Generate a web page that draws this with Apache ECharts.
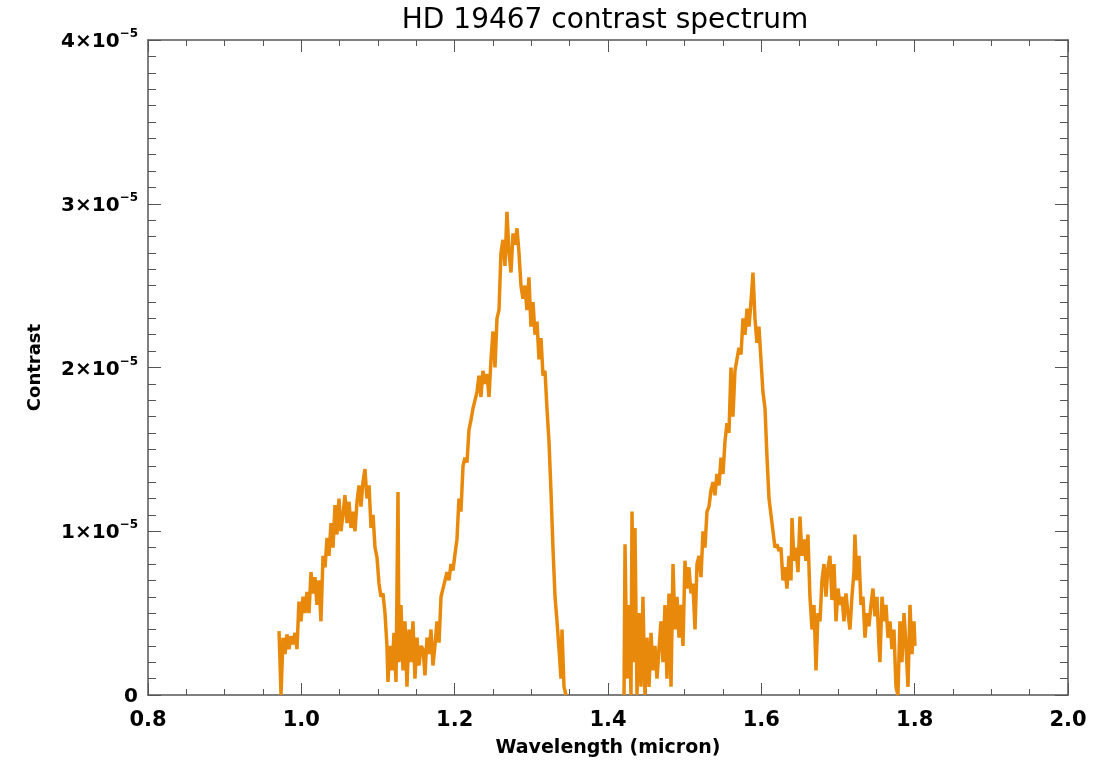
<!DOCTYPE html>
<html>
<head>
<meta charset="utf-8">
<title>HD 19467 contrast spectrum</title>
<script src="https://cdn.jsdelivr.net/npm/echarts@6/dist/echarts.min.js"></script>
<style>
  html, body { margin: 0; padding: 0; background: #fff; }
  #chart { width: 1106px; height: 764px; }
</style>
</head>
<body>
<div id="chart"></div>
<script>
// contrast in units of 1e-5, wavelength in micron
// J/H band piece (before the telluric gap)
var bandJ = [
  [0.9709,0.39],[0.9722,0.20],[0.9735,0.00],[0.9761,0.35],[0.9787,0.25],[0.9813,0.37],[0.9839,0.28],[0.9865,0.36],[0.9891,0.31],[0.9917,0.38],
  [0.9943,0.28],[0.9969,0.57],[0.9996,0.45],[1.0022,0.60],[1.0048,0.50],[1.0074,0.63],[1.0100,0.50],[1.0126,0.75],[1.0152,0.62],[1.0178,0.72],
  [1.0204,0.55],[1.0230,0.70],[1.0256,0.45],[1.0283,0.85],[1.0309,0.78],[1.0335,0.96],[1.0361,0.85],[1.0387,1.05],[1.0413,0.90],[1.0439,1.16],
  [1.0465,0.98],[1.0491,1.20],[1.0517,1.00],[1.0543,1.10],[1.0569,1.22],[1.0596,1.05],[1.0622,1.18],[1.0648,1.02],[1.0674,1.12],[1.0700,1.00],
  [1.0726,1.18],[1.0752,1.28],[1.0778,1.15],[1.0804,1.30],[1.0830,1.38],[1.0856,1.20],[1.0883,1.28],[1.0909,1.02],[1.0935,1.10],[1.0961,0.90],
  [1.0987,0.84],[1.1013,0.68],[1.1039,0.60],[1.1065,0.62],[1.1091,0.50],[1.1117,0.30],[1.1130,0.08],[1.1156,0.30],[1.1183,0.15],[1.1209,0.38],
  [1.1235,0.08],[1.1261,1.24],[1.1274,0.20],[1.1300,0.55],[1.1326,0.15],[1.1352,0.45],[1.1378,0.05],[1.1404,0.40],[1.1430,0.20],[1.1456,0.45],
  [1.1482,0.10],[1.1509,0.35],[1.1535,0.18],[1.1561,0.30],[1.1587,0.28],[1.1613,0.12],[1.1639,0.35],[1.1665,0.25],[1.1691,0.40],[1.1717,0.18],
  [1.1743,0.30],[1.1769,0.45],[1.1796,0.32],[1.1822,0.60],[1.1848,0.65],[1.1874,0.70],[1.1900,0.75],[1.1926,0.70],[1.1952,0.80],[1.1978,0.76],
  [1.2004,0.86],[1.2030,0.95],[1.2056,1.20],[1.2082,1.12],[1.2109,1.40],[1.2135,1.45],[1.2161,1.42],[1.2187,1.62],[1.2213,1.68],[1.2239,1.75],
  [1.2265,1.74],[1.2291,1.85],[1.2317,1.95],[1.2343,1.82],[1.2369,1.98],[1.2396,1.90],[1.2422,1.96],[1.2448,1.82],[1.2474,2.05],[1.2500,2.22],
  [1.2526,2.00],[1.2552,2.30],[1.2578,2.35],[1.2604,2.70],[1.2630,2.78],[1.2656,2.62],[1.2682,2.95],[1.2709,2.70],[1.2735,2.58],[1.2761,2.82],
  [1.2787,2.75],[1.2813,2.85],[1.2839,2.70],[1.2865,2.50],[1.2891,2.42],[1.2917,2.50],[1.2943,2.35],[1.2969,2.55],[1.2995,2.25],[1.3022,2.40],
  [1.3048,2.20],[1.3074,2.28],[1.3100,2.05],[1.3126,2.18],[1.3152,1.95],[1.3178,1.98],[1.3204,1.75],[1.3230,1.55],[1.3256,1.25],[1.3282,0.90],
  [1.3309,0.60],[1.3335,0.45],[1.3361,0.28],[1.3387,0.10],[1.3400,0.40],[1.3426,0.05],[1.3452,0.00]
]

// H band piece (after the gap)
var bandH = [
  [1.4209,0.00],[1.4222,0.92],[1.4248,0.10],[1.4274,0.55],[1.4300,0.00],[1.4313,1.12],[1.4339,0.20],[1.4352,1.02],[1.4378,0.00],[1.4404,0.50],
  [1.4430,0.05],[1.4456,0.60],[1.4482,0.00],[1.4508,0.35],[1.4535,0.05],[1.4561,0.38],[1.4587,0.15],[1.4613,0.30],[1.4639,0.10],[1.4665,0.28],
  [1.4691,0.45],[1.4717,0.20],[1.4743,0.55],[1.4769,0.10],[1.4795,0.62],[1.4822,0.05],[1.4848,0.80],[1.4874,0.40],[1.4900,0.60],[1.4926,0.35],
  [1.4952,0.55],[1.4978,0.30],[1.5004,0.82],[1.5030,0.65],[1.5056,0.78],[1.5082,0.62],[1.5108,0.68],[1.5135,0.40],[1.5161,0.80],[1.5187,0.85],
  [1.5213,0.72],[1.5239,1.00],[1.5265,0.90],[1.5291,1.12],[1.5317,1.15],[1.5343,1.25],[1.5369,1.30],[1.5395,1.22],[1.5421,1.35],[1.5448,1.28],
  [1.5474,1.45],[1.5500,1.35],[1.5526,1.55],[1.5552,1.66],[1.5578,1.60],[1.5604,2.00],[1.5630,1.70],[1.5656,1.98],[1.5682,2.05],[1.5708,2.12],
  [1.5735,2.08],[1.5761,2.30],[1.5787,2.20],[1.5813,2.36],[1.5839,2.25],[1.5865,2.40],[1.5891,2.58],[1.5917,2.30],[1.5943,2.15],[1.5969,2.25],
  [1.5995,2.05],[1.6021,1.85],[1.6048,1.75],[1.6074,1.45],[1.6100,1.20],[1.6126,1.10],[1.6152,1.00],[1.6178,0.90],[1.6204,0.92],[1.6230,0.88],
  [1.6256,0.90],[1.6282,0.70],[1.6308,0.78],[1.6334,0.65],[1.6361,0.85],[1.6387,0.70],[1.6400,1.08],[1.6426,0.82],[1.6452,0.90],[1.6478,0.75],
  [1.6504,1.09],[1.6530,0.85],[1.6556,0.95],[1.6582,0.82],[1.6608,0.98],[1.6634,0.60],[1.6661,0.40],[1.6687,0.55],[1.6713,0.15],[1.6739,0.50],
  [1.6765,0.45],[1.6791,0.70],[1.6817,0.80],[1.6843,0.60],[1.6869,0.78],[1.6895,0.85],[1.6921,0.58],[1.6948,0.80],[1.6974,0.45],[1.7000,0.65],
  [1.7026,0.55],[1.7052,0.60],[1.7078,0.45],[1.7104,0.62],[1.7130,0.50],[1.7156,0.40],[1.7182,0.60],[1.7208,0.75],[1.7221,0.98],[1.7247,0.70],
  [1.7274,0.85],[1.7300,0.55],[1.7326,0.60],[1.7352,0.35],[1.7378,0.50],[1.7404,0.42],[1.7430,0.55],[1.7456,0.65],[1.7482,0.48],[1.7508,0.60],
  [1.7534,0.30],[1.7547,0.20],[1.7574,0.60],[1.7600,0.45],[1.7626,0.55],[1.7652,0.35],[1.7678,0.45],[1.7704,0.28],[1.7730,0.40],[1.7756,0.05],
  [1.7782,0.00],[1.7808,0.45],[1.7834,0.20],[1.7861,0.50],[1.7887,0.30],[1.7913,0.05],[1.7939,0.55],[1.7965,0.25],[1.7991,0.45],[1.8004,0.30]
]

var xTicks = [0.8, 1.0, 1.2, 1.4, 1.6, 1.8, 2.0]
var yTicks = [0, 1, 2, 3, 4] // x 1e-5

var FONT = 'DejaVu Sans'
var LINE_COLOR = '#E8890C'
var AXIS_COLOR = '#555'

var chart = echarts.init(document.getElementById('chart'))

function xAxisCfg(pos, showLabels) {
  return {
    type: 'value',
    position: pos,
    min: xTicks[0],
    max: xTicks[xTicks.length - 1],
    interval: 0.2,
    axisLine: { show: true, onZero: false, lineStyle: { color: AXIS_COLOR, width: 1.5 } },
    axisTick: { show: true, inside: true, length: 12, lineStyle: { color: AXIS_COLOR } },
    minorTick: { show: true, splitNumber: 4, length: 6, lineStyle: { color: AXIS_COLOR } },
    splitLine: { show: false },
    axisLabel: {
      show: showLabels,
      margin: 15,
      color: '#000',
      fontFamily: FONT,
      fontWeight: 'bold',
      fontSize: 21,
      formatter: function(v) { return v.toFixed(1) }
    }
  }
}

function yAxisCfg(pos, showLabels) {
  return {
    type: 'value',
    position: pos,
    min: yTicks[0],
    max: yTicks[yTicks.length - 1],
    interval: 1,
    axisLine: { show: true, onZero: false, lineStyle: { color: AXIS_COLOR, width: 1.5 } },
    axisTick: { show: true, inside: true, length: 13, lineStyle: { color: AXIS_COLOR } },
    minorTick: { show: true, splitNumber: 10, length: 8, lineStyle: { color: AXIS_COLOR } },
    splitLine: { show: false },
    axisLabel: {
      show: showLabels,
      margin: 10,
      color: '#000',
      fontFamily: FONT,
      formatter: function(v) {
        return v === 0 ? '{n|0}' : '{n|' + v + '×10}{s|−5}'
      },
      rich: {
        n: { fontFamily: FONT, fontWeight: 'bold', fontSize: 20, color: '#000', verticalAlign: 'bottom', lineHeight: 24 },
        s: { fontFamily: FONT, fontWeight: 'bold', fontSize: 12, color: '#000', verticalAlign: 'top', lineHeight: 24 }
      }
    }
  }
}

var xBottom = xAxisCfg('bottom', true)
xBottom.name = 'Wavelength (micron)'
xBottom.nameLocation = 'middle'
xBottom.nameGap = 44
xBottom.nameTextStyle = { fontFamily: FONT, fontWeight: 'bold', fontSize: 19, color: '#000' }

var yLeft = yAxisCfg('left', true)
yLeft.name = 'Contrast'
yLeft.nameLocation = 'middle'
yLeft.nameGap = 104
yLeft.nameTextStyle = { fontFamily: FONT, fontWeight: 'bold', fontSize: 18, color: '#000' }

chart.setOption({
  animation: false,
  backgroundColor: '#fff',
  title: {
    text: 'HD 19467 contrast spectrum',
    left: 600,
    textAlign: 'center',
    top: 2,
    textStyle: { fontFamily: FONT, fontWeight: 'normal', fontSize: 28, color: '#000' }
  },
  grid: { left: 148, right: 38, top: 40, bottom: 69 },
  xAxis: [xBottom, xAxisCfg('top', false)],
  yAxis: [yLeft, yAxisCfg('right', false)],
  series: [
    {
      name: 'J',
      type: 'line',
      data: bandJ,
      symbol: 'none',
      clip: true,
      lineStyle: { color: LINE_COLOR, width: 3.5 }
    },
    {
      name: 'H',
      type: 'line',
      data: bandH,
      symbol: 'none',
      clip: true,
      lineStyle: { color: LINE_COLOR, width: 3.5 }
    }
  ]
})
</script>
</body>
</html>
